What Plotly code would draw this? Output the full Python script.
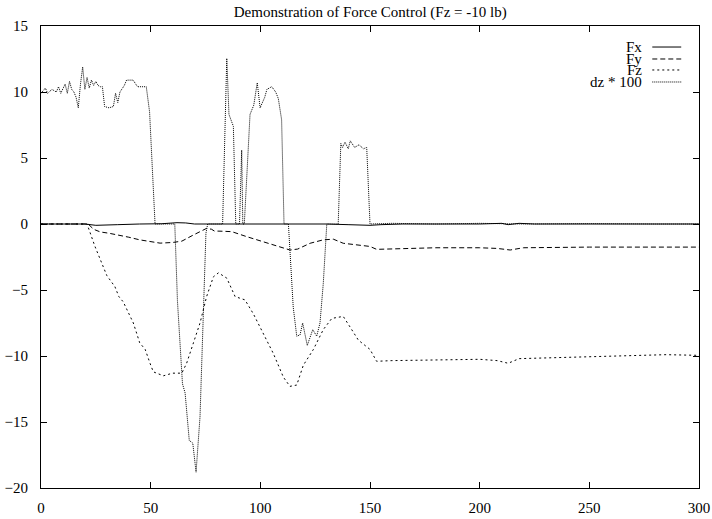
import plotly.graph_objects as go

# Fx (solid)
fx_x = [0, 20, 25, 30, 35, 45, 55, 62, 66, 70, 80, 90, 100, 110, 130, 140, 150, 155, 165,
        200, 210, 213, 218, 225, 300]
fx_y = [0, 0, -0.1, -0.1, -0.05, 0, 0.02, 0.1, 0.08, 0, 0, 0.02, 0, 0.05, 0, -0.05, -0.1, -0.05, 0,
        0, 0.05, -0.05, 0.05, 0, 0]

# Fy (dashed)
fy_x = [0, 21.5, 24, 27, 31, 36, 40, 45, 50, 54.3, 60, 64.2, 69.5, 72.5, 75.5, 77.8, 79, 83, 87,
        93.8, 101.4, 109, 113.5, 117, 122.7, 128.7, 133.3, 137.8, 144, 150, 153, 163.7, 180, 200,
        208, 213.9, 220, 250, 280, 300]
fy_y = [0, 0, -0.4, -0.6, -0.7, -0.85, -1.0, -1.2, -1.34, -1.45, -1.4, -1.3, -0.83, -0.6, -0.33,
        -0.4, -0.53, -0.55, -0.58, -0.96, -1.34, -1.7, -1.97, -1.9, -1.46, -1.2, -1.15, -1.46, -1.6,
        -1.7, -1.92, -1.85, -1.8, -1.8, -1.85, -1.97, -1.8, -1.75, -1.75, -1.75]

# Fz (short dashes)
fz_x = [0, 21, 24.6, 26.9, 30, 33.7, 35.5, 37.5, 40, 42.1, 45, 47.5, 49.7, 51.2, 55.8, 60, 64.2,
        66.4, 69.5, 72.5, 75.5, 78.6, 80.9, 84.7, 88.5, 93, 96.8, 101.4, 105.9, 110.5, 113.5, 116.6,
        119.6, 124.2, 128.7, 132.6, 137.8, 140.9, 144.7, 150, 153, 160, 180, 200, 208, 213, 218,
        230, 250, 270, 285, 300]
fz_y = [0, 0, -1.7, -2.6, -3.9, -4.75, -5.5, -5.9, -6.8, -7.5, -9.0, -9.5, -10.55, -11.2, -11.5,
        -11.3, -11.3, -10.55, -9.0, -7.5, -5.5, -4.0, -3.7, -4.1, -5.5, -5.75, -6.8, -8.3, -9.8,
        -11.6, -12.3, -12.2, -10.7, -9.5, -8.0, -7.15, -7.0, -7.8, -8.8, -9.5, -10.4, -10.35, -10.3,
        -10.25, -10.35, -10.55, -10.2, -10.15, -10.05, -9.95, -9.9, -9.95]

# dz * 100 (dotted)
dz_x = [0, 2, 3, 5, 7, 8, 9, 10, 11, 12, 13, 14, 15, 16, 17, 18, 19, 20, 21, 22, 23, 24, 25, 26,
        27, 28, 29, 31, 33, 34, 35, 36, 38, 39, 42, 44, 48, 49.5, 51, 52, 60, 61, 62.2, 64.5, 65.7,
        67.6, 69.2, 70.7, 72.5, 74, 75.2, 76, 80, 82.8, 84.7, 85.7, 87.7, 88.8, 90.5, 91.5, 92,
        92.7, 95.3, 97, 98.6, 99.9, 102, 103, 105.2, 107, 108.2, 109.7, 110.8, 112.8, 115, 116.6,
        118.1, 119.3, 121.4, 123.9, 125.7, 127.2, 128.7, 130.3, 135.5, 136.7, 137.5, 138.6, 140.1,
        141, 143, 145, 147, 148.5, 150, 160, 180, 200, 220, 250, 280, 300]
dz_y = [9.9, 10.3, 9.9, 10.2, 10.0, 10.4, 9.9, 10.3, 10.6, 9.9, 10.8, 10.2, 10.0, 9.6, 8.8, 10.6,
        11.9, 10.2, 11.1, 10.3, 10.9, 10.5, 10.8, 10.5, 10.4, 10.4, 8.9, 8.8, 8.9, 9.9, 9.2, 10.0,
        10.5, 10.9, 10.9, 10.4, 10.4, 8.5, 3.0, 0, 0, 0, -5.8, -12.1, -12.8, -16.4, -16.6, -18.8,
        -14.6, -7.0, -0.7, 0, 0, 0, 12.55, 8.3, 7.4, 0, 0, 5.6, 0, 0, 8.3, 9.0, 10.7, 8.8, 9.6,
        10.2, 10.4, 10.0, 9.5, 7.9, 0, 0, -6.3, -8.5, -8.4, -7.5, -9.2, -8.0, -8.5, -7.5, -4.5, 0,
        0, 6.1, 5.8, 6.2, 5.7, 6.3, 5.8, 6.0, 5.7, 5.8, 0, 0.05, 0, 0.05, 0, 0.03, 0, 0]

series = [
    ("Fx", fx_x, fx_y, "solid"),
    ("Fy", fy_x, fy_y, "5px,3px"),
    ("Fz", fz_x, fz_y, "2px,3px"),
    ("dz * 100", dz_x, dz_y, "1px,1px"),
]

serif = "Liberation Serif, Times New Roman, serif"

fig = go.Figure()
for name, xs, ys, dash in series:
    fig.add_trace(go.Scatter(x=xs, y=ys, mode="lines", name=name, showlegend=False,
                             line=dict(color="black", width=1, dash=dash)))

# gnuplot-style key: right aligned text, sample line after it
key_y = [0.9545, 0.9286, 0.9048, 0.8788]
for (name, xs, ys, dash), ky in zip(series, key_y):
    fig.add_annotation(x=0.917, y=ky, xref="paper", yref="paper", text=name, showarrow=False,
                       xanchor="right", yanchor="middle", font=dict(size=15, color="black"))
    fig.add_shape(type="line", xref="paper", yref="paper", x0=0.929, x1=0.973, y0=ky, y1=ky,
                  line=dict(color="black", width=1, dash=dash))

fig.update_layout(
    width=712, height=519,
    margin=dict(l=41, r=13, t=26, b=31),
    paper_bgcolor="white", plot_bgcolor="white",
    font=dict(family=serif, size=15, color="black"),
    title=dict(text="Demonstration of Force Control (Fz = -10 lb)", x=0.52, xanchor="center",
               y=0.977, yanchor="middle", font=dict(size=15)),
)
fig.update_xaxes(range=[0, 300], tickvals=[0, 50, 100, 150, 200, 250, 300], showgrid=False,
                 zeroline=False, showline=True, linecolor="black", linewidth=1, mirror="ticks",
                 ticks="inside", ticklen=6, tickcolor="black", ticklabelstandoff=6,
                 automargin=False)
fig.update_yaxes(range=[-20, 15], tickvals=[-20, -15, -10, -5, 0, 5, 10, 15], showgrid=False,
                 zeroline=False, showline=True, linecolor="black", linewidth=1, mirror="ticks",
                 ticks="inside", ticklen=6, tickcolor="black", ticklabelstandoff=9,
                 automargin=False)

# no page margin and no scrollbars, so the figure fills the window exactly
fig.write_html("out.html", config={"displayModeBar": False},
               post_script="document.body.style.margin='0';"
                           "document.documentElement.style.overflow='hidden';"
                           "document.body.style.overflow='hidden';")
